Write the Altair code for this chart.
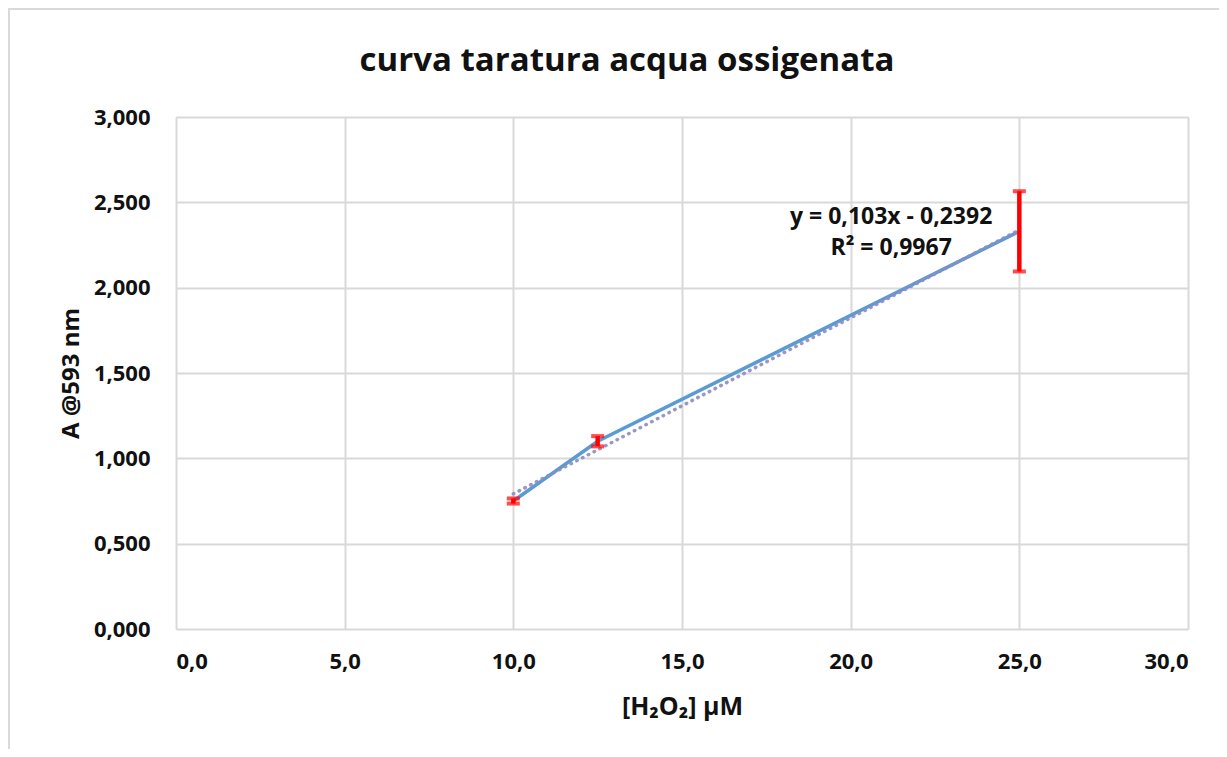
import altair as alt
import pandas as pd

# Data
conc = [10.0, 12.5, 25.0]          # [H2O2] µM
absorb = [0.75, 1.10, 2.33]        # A @593 nm
err = [0.015, 0.03, 0.235]         # error bar half-widths
eq_lines = ["y = 0,103x - 0,2392", "R² = 0,9967"]
title_text = "curva taratura acqua ossigenata"
x_ticks = [0, 5, 10, 15, 20, 25, 30]
y_ticks = [0, 0.5, 1.0, 1.5, 2.0, 2.5, 3.0]

df = pd.DataFrame({"x": conc, "y": absorb, "e": err})

FONT = "Open Sans"
GRID = "#d9d9d9"
INK = "#111111"

xs = alt.Scale(domain=[0, 30], nice=False)
ys = alt.Scale(domain=[0, 3], nice=False)

x_axis = alt.Axis(values=x_ticks, labelExpr="replace(format(datum.value, '.1f'), '.', ',')",
                  title="[H₂O₂] µM", grid=True, gridColor=GRID, gridWidth=2, domain=False,
                  ticks=False, labelPadding=22, titlePadding=22, labelFont=FONT, titleFont=FONT,
                  labelFontSize=22, titleFontSize=25, labelFontWeight="bold",
                  titleFontWeight="bold", labelColor=INK, titleColor=INK)
y_axis = alt.Axis(values=y_ticks, labelExpr="replace(format(datum.value, '.3f'), '.', ',')",
                  title="A @593 nm", grid=True, gridColor=GRID, gridWidth=2, domain=False,
                  ticks=False, labelPadding=26, titlePadding=10, labelFont=FONT, titleFont=FONT,
                  labelFontSize=22, titleFontSize=24, labelFontWeight="bold",
                  titleFontWeight="bold", labelColor=INK, titleColor=INK)

base = alt.Chart(df)
one = alt.Data(values=[{"a": 1}])

border = alt.Chart(one).mark_rect(
    fillOpacity=0, stroke=GRID, strokeWidth=2
).encode(x=alt.value(-167), y=alt.value(-108), x2=alt.value(3000), y2=alt.value(3000))

title = alt.Chart(alt.Data(values=[{"t": title_text}])).mark_text(
    font=FONT, fontSize=33, fontWeight="bold", color=INK, align="center", baseline="middle"
).encode(x=alt.value(451), y=alt.value(-56), text="t:N")

line = base.mark_line(color="#5b9bd5", strokeWidth=3.5).encode(
    x=alt.X("x:Q", scale=xs, axis=x_axis),
    y=alt.Y("y:Q", scale=ys, axis=y_axis),
)

trend = base.transform_regression("x", "y", method="linear").mark_line(
    color="#8f8cc0", strokeWidth=3.5, strokeDash=[0.5, 6], strokeCap="round", opacity=0.9
).encode(x=alt.X("x:Q", scale=xs), y=alt.Y("y:Q", scale=ys))

eb = base.transform_calculate(lo="datum.y - datum.e", hi="datum.y + datum.e")
err_rule = eb.mark_rule(color="#ff0000", strokeWidth=4.5).encode(
    x=alt.X("x:Q", scale=xs), y=alt.Y("lo:Q", scale=ys), y2="hi:Q")
cap_lo = eb.mark_tick(color="#ff0000", thickness=4, size=13, orient="horizontal").encode(
    x=alt.X("x:Q", scale=xs), y=alt.Y("lo:Q", scale=ys))
cap_hi = eb.mark_tick(color="#ff0000", thickness=4, size=13, orient="horizontal").encode(
    x=alt.X("x:Q", scale=xs), y=alt.Y("hi:Q", scale=ys))

txt1 = alt.Chart(alt.Data(values=[{"t": eq_lines[0]}])).mark_text(
    font=FONT, fontSize=23, fontWeight="bold", color=INK, align="center", baseline="middle"
).encode(x=alt.datum(21.2, scale=xs), y=alt.datum(2.415, scale=ys), text="t:N")
txt2 = alt.Chart(alt.Data(values=[{"t": eq_lines[1]}])).mark_text(
    font=FONT, fontSize=23, fontWeight="bold", color=INK, align="center", baseline="middle"
).encode(x=alt.datum(21.2, scale=xs), y=alt.datum(2.23, scale=ys), text="t:N")

chart = alt.layer(border, title, line, trend, err_rule, cap_lo, cap_hi, txt1, txt2).properties(
    width=1012, height=512,
    autosize=alt.AutoSizeParams(type="none"),
    padding={"left": 168, "top": 109, "right": 31, "bottom": 120},
).configure_view(stroke=None).configure(background="white")

chart.save("out.html", embed_options={"renderer": "svg", "actions": False})
